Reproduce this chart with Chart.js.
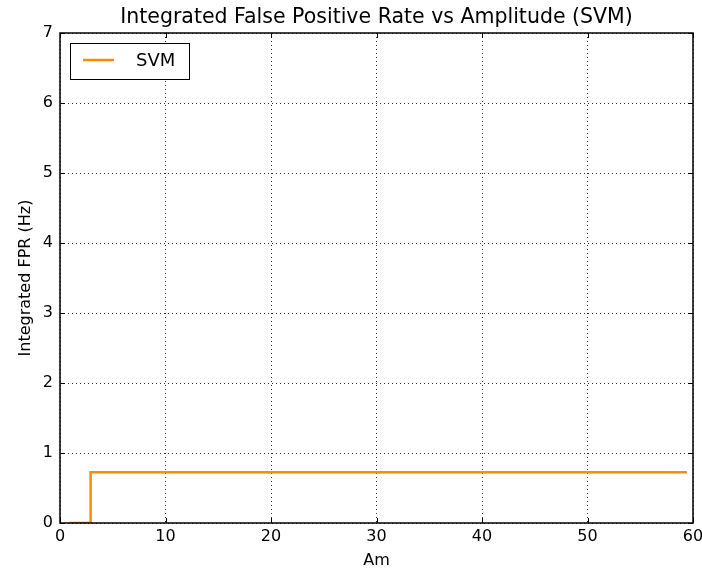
<!DOCTYPE html>
<html>
<head>
<meta charset="utf-8">
<script src="https://cdn.jsdelivr.net/npm/chart.js@4/dist/chart.umd.min.js"></script>
<style>
  html, body { margin: 0; padding: 0; background: #fff; }
  #wrap { width: 702px; height: 574px; }
</style>
</head>
<body>
<div id="wrap"><canvas id="fpr"></canvas></div>
<script>
// amplitude (x) and integrated false positive rate (y) for the SVM curve
var amplitudes = [1, 2.9, 59.3];
var fprValues = [0, 0.725, 0.725];
var xTicks = [0, 10, 20, 30, 40, 50, 60];
var yTicks = [0, 1, 2, 3, 4, 5, 6, 7];
var seriesName = 'SVM';
var chartTitle = 'Integrated False Positive Rate vs Amplitude (SVM)';

var FONT = 'DejaVu Sans, sans-serif';

// title centred over the plot area rather than the whole canvas
var plotTitle = {
    id: 'plotTitle',
    afterDraw: function (chart) {
        var ctx = chart.ctx;
        var a = chart.chartArea;
        ctx.save();
        ctx.fillStyle = '#000';
        ctx.font = '20.5px ' + FONT;
        ctx.textAlign = 'center';
        ctx.textBaseline = 'middle';
        ctx.fillText(chartTitle, (a.left + a.right) / 2, 18);
        ctx.restore();
    }
};

// legend drawn as a framed box in the top-left corner of the plot
var boxLegend = {
    id: 'boxLegend',
    afterDatasetsDraw: function (chart) {
        var ctx = chart.ctx;
        var a = chart.chartArea;
        var ds = chart.data.datasets[0];
        var x = a.left + 10, y = a.top + 10, w = 119, h = 36;
        ctx.save();
        ctx.fillStyle = '#fff';
        ctx.fillRect(x, y, w, h);
        ctx.strokeStyle = '#000';
        ctx.lineWidth = 1;
        ctx.strokeRect(x + 0.5, y + 0.5, w, h);
        ctx.strokeStyle = ds.borderColor;
        ctx.lineWidth = 2.5;
        ctx.beginPath();
        ctx.moveTo(x + 13, y + 17);
        ctx.lineTo(x + 44, y + 17);
        ctx.stroke();
        ctx.fillStyle = '#000';
        ctx.font = '18px ' + FONT;
        ctx.textBaseline = 'middle';
        ctx.fillText(ds.label, x + 66, y + 18);
        ctx.restore();
    }
};

// inward tick marks on all four sides plus the black frame
var frameTicks = {
    id: 'frameTicks',
    afterDraw: function (chart) {
        var ctx = chart.ctx;
        var a = chart.chartArea;
        var sx = chart.scales.x, sy = chart.scales.y;
        ctx.save();
        ctx.strokeStyle = '#000';
        ctx.lineWidth = 1;
        ctx.beginPath();
        xTicks.forEach(function (v) {
            var px = Math.round(sx.getPixelForValue(v)) + 0.5;
            ctx.moveTo(px, a.bottom); ctx.lineTo(px, a.bottom - 5);
            ctx.moveTo(px, a.top); ctx.lineTo(px, a.top + 5);
        });
        yTicks.forEach(function (v) {
            var py = Math.round(sy.getPixelForValue(v)) + 0.5;
            ctx.moveTo(a.left, py); ctx.lineTo(a.left + 5, py);
            ctx.moveTo(a.right, py); ctx.lineTo(a.right - 5, py);
        });
        ctx.stroke();
        ctx.lineWidth = 1.5;
        ctx.strokeRect(a.left, a.top, a.right - a.left, a.bottom - a.top);
        ctx.restore();
    }
};

var ctx = document.getElementById('fpr').getContext('2d');
new Chart(ctx, {
    type: 'line',
    data: {
        datasets: [{
            label: seriesName,
            data: amplitudes.map(function (a, i) { return { x: a, y: fprValues[i] }; }),
            borderColor: '#ff8c00',
            backgroundColor: '#ff8c00',
            borderWidth: 2.5,
            borderCapStyle: 'square',
            stepped: 'before',
            pointRadius: 0,
            fill: false
        }]
    },
    options: {
        responsive: true,
        maintainAspectRatio: false,
        animation: false,
        layout: { padding: { left: 12, right: 9, top: 33, bottom: 0 } },
        scales: {
            x: {
                type: 'linear',
                min: 0,
                max: 60,
                afterBuildTicks: function (s) { s.ticks = xTicks.map(function (v) { return { value: v }; }); },
                afterFit: function (s) {
                    s.height = 51;
                    // let the last label run off the edge
                    s.paddingRight = 0;
                },
                grid: { color: '#000', lineWidth: 0.8, drawTicks: false },
                border: { display: false, dash: [1, 3] },
                ticks: { color: '#000', font: { family: FONT, size: 16 }, padding: 4, maxRotation: 0 },
                title: { display: true, text: 'Am', color: '#000', font: { family: FONT, size: 16 }, padding: { top: 0 } }
            },
            y: {
                min: 0,
                max: 7,
                afterBuildTicks: function (s) { s.ticks = yTicks.map(function (v) { return { value: v }; }); },
                afterFit: function (s) { s.width = 48; s.paddingTop = 0; },
                grid: { color: '#000', lineWidth: 0.8, drawTicks: false },
                border: { display: false, dash: [1, 3] },
                ticks: { color: '#000', font: { family: FONT, size: 16 }, padding: 7 },
                title: { display: true, text: 'Integrated FPR (Hz)', color: '#000', font: { family: FONT, size: 16 }, padding: { bottom: 2 } }
            }
        },
        plugins: {
            legend: { display: false },
            tooltip: { enabled: false },
            title: { display: false }
        }
    },
    plugins: [plotTitle, boxLegend, frameTicks]
});
</script>
</body>
</html>
